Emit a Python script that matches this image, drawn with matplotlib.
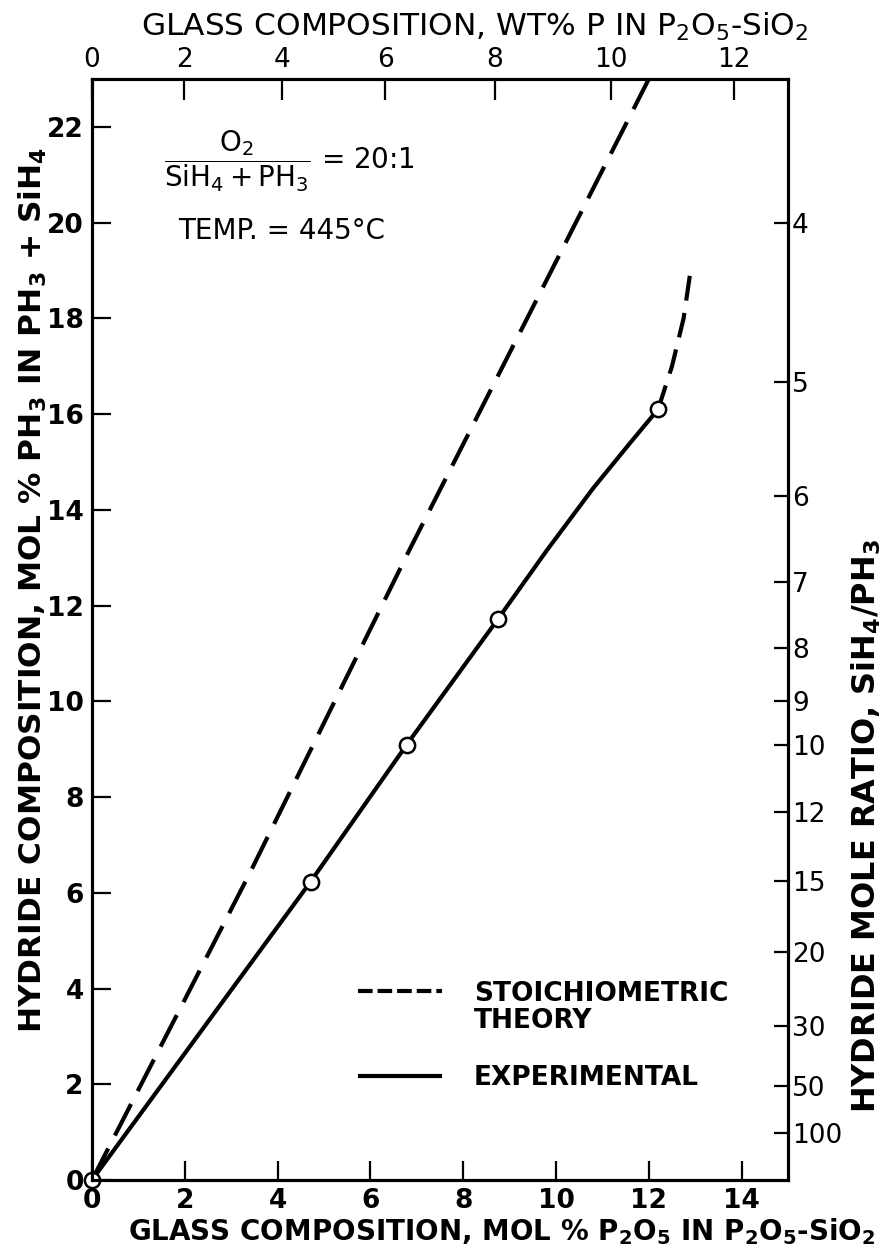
import numpy as np
import matplotlib
matplotlib.use("Agg")
import matplotlib.pyplot as plt

plt.rcParams['font.family'] = ['DejaVu Sans']
plt.rcParams['mathtext.fontset'] = 'dejavusans'
plt.rcParams['mathtext.default'] = 'regular'

# ---------------- data ----------------
theory_x = [0.0, 3.4, 6.84, 12.0]
theory_y = [0.0, 6.41, 13.16, 23.0]

exp_x = [0.0, 4.71, 6.78, 8.75, 9.8, 10.8, 11.6, 12.2]
exp_y = [0.0, 6.23, 9.09, 11.72, 13.15, 14.45, 15.4, 16.1]

marker_x = [0.0, 4.71, 6.78, 8.75, 12.2]
marker_y = [0.0, 6.23, 9.09, 11.72, 16.1]

extrap_x = [12.2, 12.5, 12.75, 12.9]
extrap_y = [16.1, 17.0, 18.0, 19.0]

bottom_ticks = [0, 2, 4, 6, 8, 10, 12, 14]
left_ticks = [0, 2, 4, 6, 8, 10, 12, 14, 16, 18, 20, 22]
wt_ticks = [0, 2, 4, 6, 8, 10, 12]
ratio_ticks = [4, 5, 6, 7, 8, 9, 10, 12, 15, 20, 30, 50, 100]


def wt_to_mol(w):
    # wt% P in P2O5-SiO2 -> mol% P2O5
    w = np.asarray(w, dtype=float)
    return 100.0 * 60.08 * w / (6194.0 - 81.86 * w)


def ratio_to_pct(r):
    # SiH4/PH3 ratio -> mol% PH3
    return 100.0 / (np.asarray(r, dtype=float) + 1.0)


fig = plt.figure(figsize=(8.82, 12.53), dpi=100)
ax = fig.add_axes([92 / 882, 73 / 1253, 696 / 882, 1101 / 1253])
ax.set_xlim(0, 15)
ax.set_ylim(0, 23)

dash = (0, (8.5, 3.5))
l1, = ax.plot(theory_x, theory_y, color='k', lw=3, linestyle=dash,
              dash_capstyle='butt', label='STOICHIOMETRIC')
l2, = ax.plot(exp_x, exp_y, color='k', lw=3, solid_capstyle='butt',
              label='EXPERIMENTAL')
ax.plot(extrap_x, extrap_y, color='k', lw=3, linestyle=(0, (6, 3)),
        dash_capstyle='butt')
ax.plot(marker_x, marker_y, 'o', mfc='white', mec='k', ms=11, mew=1.8,
        clip_on=False, zorder=5)

for s in ax.spines.values():
    s.set_linewidth(2.2)

ax.set_xticks(bottom_ticks)
ax.set_xticklabels([str(t) for t in bottom_ticks], fontsize=19,
                   fontweight='bold')
ax.set_yticks(left_ticks)
ax.set_yticklabels([str(t) for t in left_ticks], fontsize=19,
                   fontweight='bold')
ax.tick_params(axis='both', direction='in', length=14, width=1.6, pad=6)

# top axis: wt% P
ax_t = ax.twiny()
ax_t.set_xlim(ax.get_xlim())
ax_t.set_xticks(wt_to_mol(wt_ticks))
ax_t.set_xticklabels([str(t) for t in wt_ticks], fontsize=19)
ax_t.tick_params(axis='x', direction='in', length=15, width=1.6, pad=4)

# right axis: hydride mole ratio
ax_r = ax.twinx()
ax_r.set_ylim(ax.get_ylim())
ax_r.set_yticks(ratio_to_pct(ratio_ticks))
ax_r.set_yticklabels([str(t) for t in ratio_ticks], fontsize=19)
ax_r.tick_params(axis='y', direction='in', length=10, width=1.6, pad=3)
for a in (ax_t, ax_r):
    for s in a.spines.values():
        s.set_linewidth(2.2)

# axis titles
fig.text(475 / 882, 1 - 27 / 1253,
         r'GLASS COMPOSITION, WT% P IN $\mathregular{P_2O_5}$-$\mathregular{SiO_2}$',
         ha='center', va='center', fontsize=22.5)
fig.text(502 / 882, 1 - 1232 / 1253,
         r'GLASS COMPOSITION, MOL % $\mathbf{P_2O_5}$ IN $\mathbf{P_2O_5}$-$\mathbf{SiO_2}$',
         ha='center', va='center', fontsize=20, fontweight='bold')
fig.text(33 / 882, 1 - 590 / 1253,
         r'HYDRIDE COMPOSITION, MOL % $\mathbf{PH_3}$ IN $\mathbf{PH_3}$ + $\mathbf{SiH_4}$',
         ha='center', va='center', rotation=90, fontsize=22.5, fontweight='bold')
fig.text(866 / 882, 1 - 826 / 1253,
         r'HYDRIDE MOLE RATIO, $\mathbf{SiH_4/PH_3}$',
         ha='center', va='center', rotation=90, fontsize=23, fontweight='bold')

# annotation
ax.text(0.103, 0.925,
        r'$\dfrac{\ \ O_2\ \ }{SiH_4 + PH_3}$ = 20:1',
        transform=ax.transAxes, ha='left', va='center', fontsize=20)
ax.text(0.124, 0.862, 'TEMP. = 445°C', transform=ax.transAxes,
        ha='left', va='center', fontsize=20)

# legend
leg = ax.legend(handles=[l1, l2], loc='upper left',
                bbox_to_anchor=(0.382, 0.181), frameon=False,
                prop={'size': 19, 'weight': 'bold'}, handlelength=3.2,
                handletextpad=1.2, labelspacing=2.2, borderpad=0,
                borderaxespad=0)
leg.get_lines()[0].set_linestyle((0, (3.5, 1.2)))
ax.annotate('THEORY', xy=(0, 0), xycoords=leg.get_texts()[0],
            xytext=(0, -1), textcoords='offset points', ha='left', va='top',
            fontsize=19, fontweight='bold', zorder=10)

fig.savefig('out.png', dpi=100)
